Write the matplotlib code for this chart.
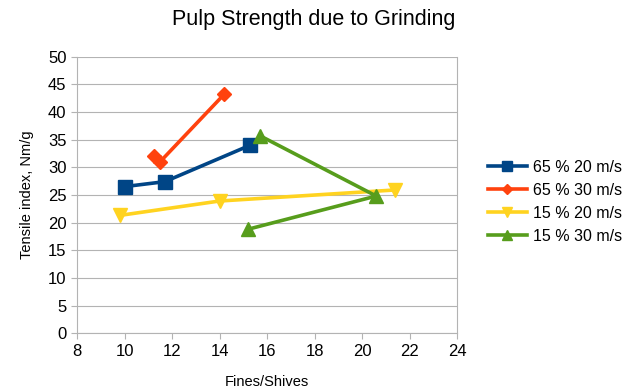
import matplotlib
matplotlib.use('Agg')
import matplotlib.pyplot as plt

plt.rcParams['font.family'] = ['Liberation Sans', 'DejaVu Sans']

# series data (Fines/Shives, Tensile index)
names = ['65 % 20 m/s', '65 % 30 m/s', '15 % 20 m/s', '15 % 30 m/s']
xs = [
    [10.0, 11.7, 15.3],
    [11.25, 11.5, 14.2],
    [9.8, 14.0, 21.4],
    [15.7, 20.6, 15.2],
]
ys = [
    [26.5, 27.4, 34.0],
    [32.1, 31.0, 43.2],
    [21.3, 23.9, 25.9],
    [35.7, 24.8, 18.8],
]
colors = ['#004586', '#ff420e', '#ffd320', '#579d1c']
markers = ['s', 'D', 'v', '^']
msizes = [9.5, 7, 9.5, 9.5]

fig = plt.figure(figsize=(6.24, 3.91), dpi=100)
ax = fig.add_axes([0.1234, 0.1476, 0.609, 0.7077])

for x, y, c, m, ms, n in zip(xs, ys, colors, markers, msizes, names):
    ax.plot(x, y, color=c, marker=m, markersize=ms, linewidth=2.6, label=n, zorder=3)

ax.set_xlim(8, 24)
ax.set_ylim(0, 50)
ax.set_xticks(range(8, 25, 2))
ax.set_yticks(range(0, 51, 5))
ax.yaxis.grid(True, color='#b3b3b3', linewidth=0.8)
ax.set_axisbelow(True)
for s in ['left', 'bottom', 'right']:
    ax.spines[s].set_color('#b3b3b3')
ax.spines['top'].set_visible(False)
ax.tick_params(colors='#b3b3b3', labelcolor='black', labelsize=12, length=4)

ax.set_xlabel('Fines/Shives', fontsize=10.5, labelpad=12)
ax.set_ylabel('Tensile index, Nm/g', fontsize=10.5, labelpad=10)
fig.text(0.502, 0.95, 'Pulp Strength due to Grinding', ha='center', va='center', fontsize=15.5)

ax.legend(loc='center left', bbox_to_anchor=(1.055, 0.475), frameon=False, fontsize=11.5,
          handlelength=2.5, labelspacing=0.5, handletextpad=0.35, markerscale=0.75,
          borderaxespad=0.2)

fig.savefig('out.png', dpi=100)
